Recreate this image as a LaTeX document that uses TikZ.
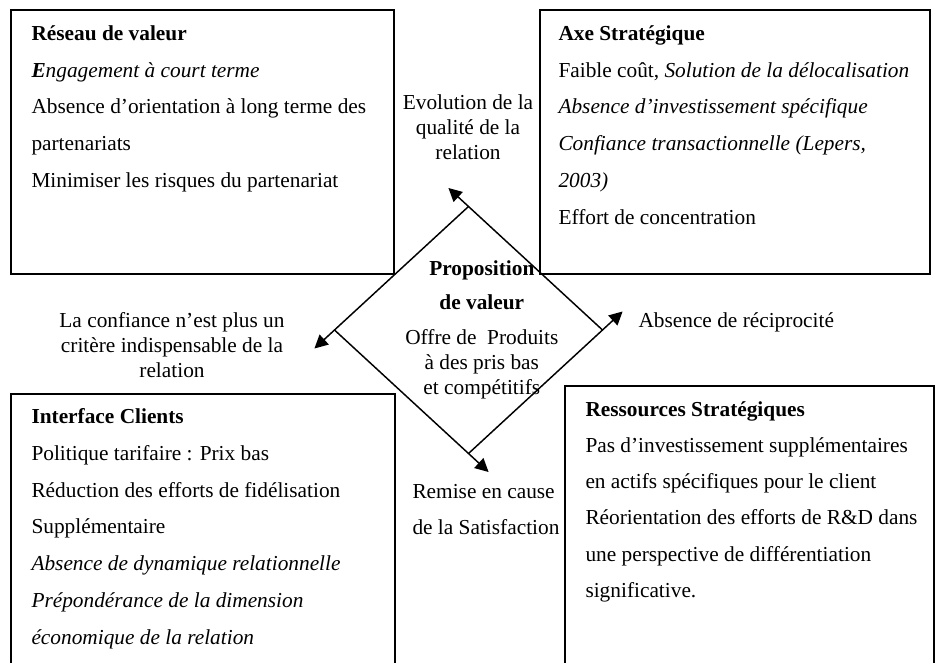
\documentclass[tikz,border=0pt]{standalone}
\usepackage{fontspec}
\setmainfont{Liberation Serif}
\usetikzlibrary{shapes.geometric,arrows.meta,calc}

\tikzset{every picture/.style={line width=0.75pt}}
\tikzset{
  bloc/.style={draw, line width=1.2pt, rectangle, anchor=north west, inner sep=0pt},
  bloctxt/.style={anchor=north west, inner sep=0pt, align=left, font=\fontsize{16}{27.6}\selectfont},
  lien/.style={align=center, inner sep=0pt, font=\fontsize{16}{18.75}\selectfont},
  fleche/.style={line width=1.1pt, -{Triangle[length=10pt,width=10pt]}},
}

\begin{document}
\begin{tikzpicture}[x=0.75pt,y=0.75pt,yscale=-1,xscale=1]
\useasboundingbox (0,0) rectangle (935,663);
\clip (0,0) rectangle (935,663);

%Shape: Rectangle [Reseau de valeur]
\node[bloc, minimum width=287.25pt, minimum height=198pt] (reseau) at (10,9) {};
%Shape: Rectangle [Axe strategique]
\node[bloc, minimum width=292.5pt, minimum height=198pt] (axe) at (539,9) {};
%Shape: Rectangle [Interface clients]
\node[bloc, minimum width=288pt, minimum height=230.25pt] (interface) at (10,393) {};
%Shape: Rectangle [Ressources strategiques]
\node[bloc, minimum width=276.75pt, minimum height=236.25pt] (ressources) at (564,385) {};
%Shape: Diamond [Proposition de valeur]
\node[diamond, minimum width=200.25pt, minimum height=184.5pt, inner sep=0pt] (prop) at (468.5,330) {};

%Straight Lines [edges of the diamond, each one ending in an arrow]
\draw[fleche] (prop.east) -- ($(prop.east)!1.15!(prop.north)$);
\draw[fleche] (prop.north) -- ($(prop.north)!1.15!(prop.west)$);
\draw[fleche] (prop.west) -- ($(prop.west)!1.15!(prop.south)$);
\draw[fleche] (prop.south) -- ($(prop.south)!1.15!(prop.east)$);

% Text Node
\node[bloctxt] (reseautxt) at ([shift={(21,16)}]reseau.north west)
  {\textbf{Réseau de valeur}\\
   \textbf{\textit{E}}\textit{ngagement à court terme}\\
   Absence d’orientation à long terme des\\
   partenariats\\
   Minimiser les risques du partenariat};
% Text Node
\node[bloctxt] (axetxt) at ([shift={(19,16)}]axe.north west)
  {\textbf{Axe Stratégique}\\
   Faible coût, \textit{Solution de la délocalisation}\\
   \textit{Absence d’investissement spécifique}\\
   \textit{Confiance transactionnelle (Lepers,}\\
   \textit{2003)}\\
   Effort de concentration};
% Text Node
\node[bloctxt] (interfacetxt) at ([shift={(21,15)}]interface.north west)
  {\textbf{Interface Clients}\\
   Politique tarifaire : Prix bas\\
   Réduction des efforts de fidélisation\\
   Supplémentaire\\
   \textit{Absence de dynamique relationnelle}\\
   \textit{Prépondérance de la dimension}\\
   \textit{économique de la relation}};
% Text Node
\node[bloctxt, font=\fontsize{16}{27.15}\selectfont] (ressourcestxt) at ([shift={(21,16)}]ressources.north west)
  {\textbf{Ressources Stratégiques}\\
   Pas d’investissement supplémentaires\\
   en actifs spécifiques pour le client\\
   Réorientation des efforts de R\&D dans\\
   une perspective de différentiation\\
   significative.};
% Text Node
\node[lien] (proptxt) at ([xshift=10]prop.center)
  {\textbf{Proposition}\\[6.75pt]
   \textbf{de valeur}\\[7.5pt]
   Offre de\ \ Produits\\
   à des pris bas\\
   et compétitifs};

% Text Node
\node[lien] (evolution) at (468,127) {Evolution de la\\qualité de la\\relation};
% Text Node
\node[lien] (confiance) at (172,345.5) {La confiance n’est plus un\\critère indispensable de la\\relation};
% Text Node
\node[lien, anchor=west] (reciprocite) at (638,322) {Absence de réciprocité};
% Text Node
\node[lien, anchor=north west, align=left, font=\fontsize{16}{27}\selectfont] (remise) at (412,484) {Remise en cause\\de la Satisfaction};

\end{tikzpicture}
\end{document}
